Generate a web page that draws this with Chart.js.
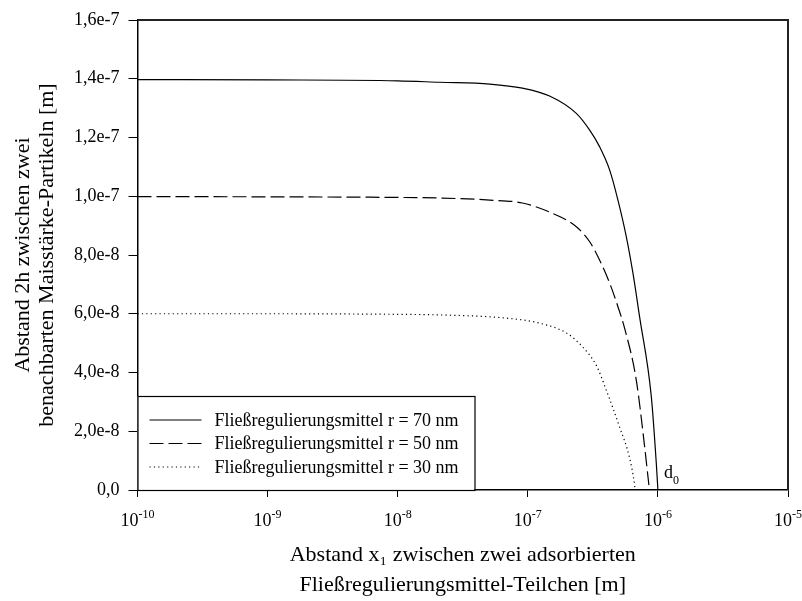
<!DOCTYPE html>
<html>
<head>
<meta charset="utf-8">
<script src="https://cdn.jsdelivr.net/npm/chart.js@4.4.1/dist/chart.umd.min.js"></script>
<style>
  html, body { margin: 0; padding: 0; background: #fff; }
</style>
</head>
<body>
<canvas id="abstandChart" width="802" height="601"></canvas>
<script>
// Abstand 2h zwischen zwei Maisstärke-Partikeln über x1
const seriesLabels = [
  'Fließregulierungsmittel r = 70 nm',
  'Fließregulierungsmittel r = 50 nm',
  'Fließregulierungsmittel r = 30 nm'
];

// r = 70 nm
const x70 = [1e-10, 1e-9, 1e-8, 2.1e-8, 5.1e-8, 9.1e-8, 1.47e-7, 2.36e-7, 2.99e-7, 3.56e-7, 4.26e-7, 4.93e-7, 5.72e-7, 6.43e-7, 7.23e-7, 8.9e-7, 9.72e-7, 1.0e-6];
const h70 = [1.397e-7, 1.396e-7, 1.393e-7, 1.388e-7, 1.382e-7, 1.368e-7, 1.341e-7, 1.282e-7, 1.225e-7, 1.169e-7, 1.089e-7, 9.87e-8, 8.62e-8, 7.38e-8, 5.90e-8, 3.18e-8, 9.1e-9, 0];

// r = 50 nm
const x50 = [1e-10, 1e-9, 1e-8, 2.1e-8, 5.1e-8, 9.1e-8, 1.47e-7, 2.36e-7, 2.99e-7, 3.56e-7, 4.26e-7, 4.93e-7, 5.55e-7, 6.82e-7, 7.91e-7, 8.53e-7, 8.63e-7];
const h50 = [9.99e-8, 9.98e-8, 9.96e-8, 9.94e-8, 9.87e-8, 9.77e-8, 9.46e-8, 8.96e-8, 8.45e-8, 7.83e-8, 7.04e-8, 6.24e-8, 5.50e-8, 3.74e-8, 1.47e-8, 1.7e-9, 0];

// r = 30 nm
const x30 = [1e-10, 1e-9, 1e-8, 2.1e-8, 6.89e-8, 1.23e-7, 1.99e-7, 2.64e-7, 3.38e-7, 4.01e-7, 5.08e-7, 6.06e-7, 6.62e-7, 6.68e-7];
const h30 = [6.0e-8, 6.0e-8, 5.98e-8, 5.96e-8, 5.85e-8, 5.68e-8, 5.34e-8, 4.87e-8, 4.22e-8, 3.40e-8, 2.14e-8, 1.09e-8, 1.7e-9, 0];

const xTickValues = [1e-10, 1e-9, 1e-8, 1e-7, 1e-6, 1e-5];
const xTickExponents = ['-10', '-9', '-8', '-7', '-6', '-5'];
const yTickValues = [0, 2e-8, 4e-8, 6e-8, 8e-8, 1e-7, 1.2e-7, 1.4e-7, 1.6e-7];
const yTickLabels = ['0,0', '2,0e-8', '4,0e-8', '6,0e-8', '8,0e-8', '1,0e-7', '1,2e-7', '1,4e-7', '1,6e-7'];
const d0Value = 1e-6;

const serif = "'Liberation Serif', 'Times New Roman', serif";

function toPoints(xs, ys) {
  return xs.map((x, i) => ({ x: x, y: ys[i] }));
}

// Rahmen oben/rechts, x-Beschriftung 10^n, Legende unten links, d0
const frameAndLegend = {
  id: 'frameAndLegend',
  afterDatasetsDraw(chart) {
    const { ctx, chartArea: a, scales } = chart;
    ctx.save();

    ctx.strokeStyle = '#222';
    ctx.lineWidth = 2;
    ctx.beginPath();
    ctx.moveTo(a.left, a.top);
    ctx.lineTo(a.right, a.top);
    ctx.lineTo(a.right, a.bottom);
    ctx.stroke();

    // Achsenbeschriftung 10 hoch n
    ctx.fillStyle = '#000';
    ctx.textBaseline = 'alphabetic';
    ctx.textAlign = 'left';
    xTickValues.forEach((v, i) => {
      const px = scales.x.getPixelForValue(v);
      ctx.font = '18px ' + serif;
      const wb = ctx.measureText('10').width;
      ctx.font = '12px ' + serif;
      const we = ctx.measureText(xTickExponents[i]).width;
      const x0 = px - (wb + we) / 2;
      ctx.font = '18px ' + serif;
      ctx.fillText('10', x0, a.bottom + 36);
      ctx.font = '12px ' + serif;
      ctx.fillText(xTickExponents[i], x0 + wb, a.bottom + 28);
    });

    // Legende
    const bw = 337, bh = 94;
    const bx = a.left, by = a.bottom - bh;
    ctx.fillStyle = '#fff';
    ctx.fillRect(bx, by, bw, bh);
    ctx.strokeStyle = '#000';
    ctx.lineWidth = 1.2;
    ctx.strokeRect(bx + 0.5, by + 0.5, bw, bh);

    const rowY = [by + 24, by + 47.5, by + 71];
    ctx.font = '18px ' + serif;
    ctx.textBaseline = 'middle';
    chart.data.datasets.forEach((ds, i) => {
      ctx.strokeStyle = ds.borderColor;
      ctx.lineWidth = ds.borderWidth;
      ctx.setLineDash(ds.borderDash || []);
      ctx.beginPath();
      ctx.moveTo(bx + 12, rowY[i]);
      ctx.lineTo(bx + 64, rowY[i]);
      ctx.stroke();
      ctx.setLineDash([]);
      ctx.fillStyle = '#000';
      ctx.fillText(ds.label, bx + 77, rowY[i] + 1);
    });

    // d0 an der Stelle x = 1e-6
    const dx = scales.x.getPixelForValue(d0Value) + 6;
    ctx.textBaseline = 'alphabetic';
    ctx.font = '18px ' + serif;
    ctx.fillText('d', dx, a.bottom - 12);
    const dw = ctx.measureText('d').width;
    ctx.font = '12px ' + serif;
    ctx.fillText('0', dx + dw, a.bottom - 6);

    ctx.restore();
  }
};

const ctx = document.getElementById('abstandChart').getContext('2d');
new Chart(ctx, {
  type: 'line',
  data: {
    datasets: [
      {
        label: seriesLabels[0],
        data: toPoints(x70, h70),
        borderColor: '#000',
        borderWidth: 1.2,
        borderDash: []
      },
      {
        label: seriesLabels[1],
        data: toPoints(x50, h50),
        borderColor: '#000',
        borderWidth: 1.2,
        borderDash: [14, 5]
      },
      {
        label: seriesLabels[2],
        data: toPoints(x30, h30),
        borderColor: '#000',
        borderWidth: 1.2,
        borderDash: [1.2, 3.2]
      }
    ]
  },
  options: {
    responsive: false,
    animation: false,
    layout: { padding: { top: 20, right: 14, left: 0, bottom: 0 } },
    elements: {
      point: { radius: 0 },
      line: { fill: false, cubicInterpolationMode: 'monotone' }
    },
    plugins: {
      legend: { display: false },
      tooltip: { enabled: false }
    },
    scales: {
      x: {
        type: 'logarithmic',
        min: 1e-10,
        max: 1e-5,
        afterBuildTicks: s => { s.ticks = xTickValues.map(v => ({ value: v })); },
        afterFit: s => { s.height = 111; s.paddingLeft = 0; s.paddingRight = 0; },
        grid: { display: true, drawOnChartArea: false, drawTicks: true, tickLength: 7, color: '#000', lineWidth: 1 },
        border: { display: true, color: '#000', width: 1.5 },
        ticks: { display: false },
        title: {
          display: true,
          text: ['Abstand x₁ zwischen zwei adsorbierten', 'Fließregulierungsmittel-Teilchen [m]'],
          color: '#000',
          font: { family: serif, size: 22, lineHeight: 30 / 22 },
          padding: { top: 0, bottom: 1 }
        }
      },
      y: {
        type: 'linear',
        min: 0,
        max: 1.6e-7,
        afterBuildTicks: s => { s.ticks = yTickValues.map(v => ({ value: v })); },
        afterFit: s => { s.width = 137.5; s.paddingTop = 0; s.paddingBottom = 0; },
        grid: { display: true, drawOnChartArea: false, drawTicks: true, tickLength: 9, color: '#000', lineWidth: 1 },
        border: { display: true, color: '#000', width: 1.5 },
        ticks: {
          padding: 9,
          color: '#000',
          font: { family: serif, size: 18 },
          callback: (v, i) => yTickLabels[i]
        },
        title: {
          display: true,
          text: ['Abstand 2h zwischen zwei', 'benachbarten Maisstärke-Partikeln [m]'],
          color: '#000',
          font: { family: serif, size: 22, lineHeight: 24 / 22 },
          padding: { top: 11, bottom: 0 }
        }
      }
    }
  },
  plugins: [frameAndLegend]
});
</script>
</body>
</html>
